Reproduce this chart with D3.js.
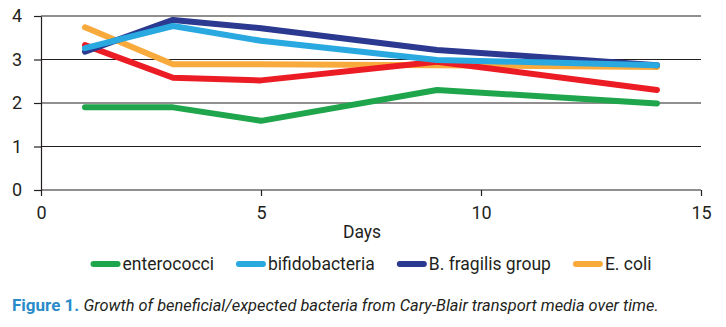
<!DOCTYPE html>
<html>
<head>
<meta charset="utf-8">
<script src="https://cdn.jsdelivr.net/npm/d3@7"></script>
<style>
  body { margin: 0; background: #fff; }
  svg { display: block; }
  text { font-family: Roboto, "DejaVu Sans Condensed", sans-serif; fill: #231f20; }
</style>
</head>
<body>
<svg id="chart" width="726" height="327"></svg>
<script>
// sampling days
const days = [1, 3, 5, 9, 14];

// log counts per series
const enterococci = [1.9, 1.9, 1.59, 2.3, 1.99];
const bifidobacteria = [3.26, 3.77, 3.43, 2.99, 2.87];
const bFragilis = [3.18, 3.91, 3.72, 3.22, 2.87];
const eColi = [3.74, 2.89, 2.89, 2.87, 2.83];
const other = [3.33, 2.58, 2.52, 2.95, 2.3];

const xTicks = [0, 5, 10, 15];
const yTicks = [0, 1, 2, 3, 4];

// drawing order: later ones sit on top
const series = [
    { name: 'enterococci', values: enterococci, color: '#1fa54b', legend: true },
    { name: 'E. coli', values: eColi, color: '#f9aa3c', legend: true },
    { name: 'other', values: other, color: '#ec1c24', legend: false },
    { name: 'B. fragilis group', values: bFragilis, color: '#2b3990', legend: true },
    { name: 'bifidobacteria', values: bifidobacteria, color: '#29a9e0', legend: true }
];
const legendOrder = ['enterococci', 'bifidobacteria', 'B. fragilis group', 'E. coli'];

const svg = d3.select('#chart');
svg.append('rect').attr('width', 726).attr('height', 327).attr('fill', '#fff');

const x = d3.scaleLinear().domain([0, 15]).range([41, 701]);
const y = d3.scaleLinear().domain([0, 4]).range([190, 16]);

// horizontal grid
svg.append('g')
    .selectAll('line')
    .data(yTicks)
    .join('line')
    .attr('x1', x(0))
    .attr('x2', x(15))
    .attr('y1', d => y(d))
    .attr('y2', d => y(d))
    .attr('stroke', '#231f20')
    .attr('stroke-width', 1.2);

// x axis
let xAxis = svg.append('g')
    .attr('transform', `translate(0,${y(0)})`)
    .call(d3.axisBottom(x).tickValues(xTicks).tickFormat(d3.format('d'))
        .tickSize(6).tickPadding(10).tickSizeOuter(0));
xAxis.select('.domain').remove();
xAxis.selectAll('line').attr('stroke', '#231f20').attr('stroke-width', 1.2);
xAxis.selectAll('text').attr('font-size', 18).attr('fill', '#231f20')
    .attr('font-family', null);

// y axis
let yAxis = svg.append('g')
    .attr('transform', `translate(${x(0)},0)`)
    .call(d3.axisLeft(y).tickValues(yTicks).tickFormat(d3.format('d'))
        .tickSize(7).tickPadding(12).tickSizeOuter(0));
yAxis.select('.domain').attr('stroke', '#231f20').attr('stroke-width', 1.2);
yAxis.selectAll('line').attr('stroke', '#231f20').attr('stroke-width', 1.2);
yAxis.selectAll('text').attr('font-size', 18).attr('fill', '#231f20')
    .attr('font-family', null);

svg.append('text')
    .attr('x', 362)
    .attr('y', 238)
    .attr('text-anchor', 'middle')
    .attr('font-size', 17.5)
    .text('Days');

// lines
const line = d3.line()
    .x((d, i) => x(days[i]))
    .y(d => y(d));

svg.append('g')
    .selectAll('path')
    .data(series)
    .join('path')
    .attr('d', d => line(d.values))
    .attr('fill', 'none')
    .attr('stroke', d => d.color)
    .attr('stroke-width', 6)
    .attr('stroke-linecap', 'round')
    .attr('stroke-linejoin', 'round');

// legend, centred under the plot
let legend = svg.append('g');
let items = legendOrder.map(n => series.find(s => s.name === n));
let cursor = 0;
items.forEach(s => {
    let g = legend.append('g').attr('transform', `translate(${cursor},0)`);
    g.append('line')
        .attr('x1', 3).attr('x2', 27)
        .attr('y1', 0).attr('y2', 0)
        .attr('stroke', s.color)
        .attr('stroke-width', 6)
        .attr('stroke-linecap', 'round');
    let t = g.append('text')
        .attr('x', 32)
        .attr('y', 6)
        .attr('font-size', 17.5)
        .text(s.name);
    cursor += 32 + t.node().getComputedTextLength() + 22;
});
cursor -= 22;
legend.attr('transform', `translate(${371 - cursor / 2},264)`);

// caption
let cap = svg.append('text')
    .attr('x', 12)
    .attr('y', 311);
cap.append('tspan')
    .attr('font-weight', 'bold')
    .attr('font-size', 17)
    .style('fill', '#2a8bc9')
    .text('Figure 1. ');
cap.append('tspan')
    .attr('font-style', 'italic')
    .attr('font-size', 16.4)
    .text('Growth of beneficial/expected bacteria from Cary-Blair transport media over time.');
</script>
</body>
</html>
